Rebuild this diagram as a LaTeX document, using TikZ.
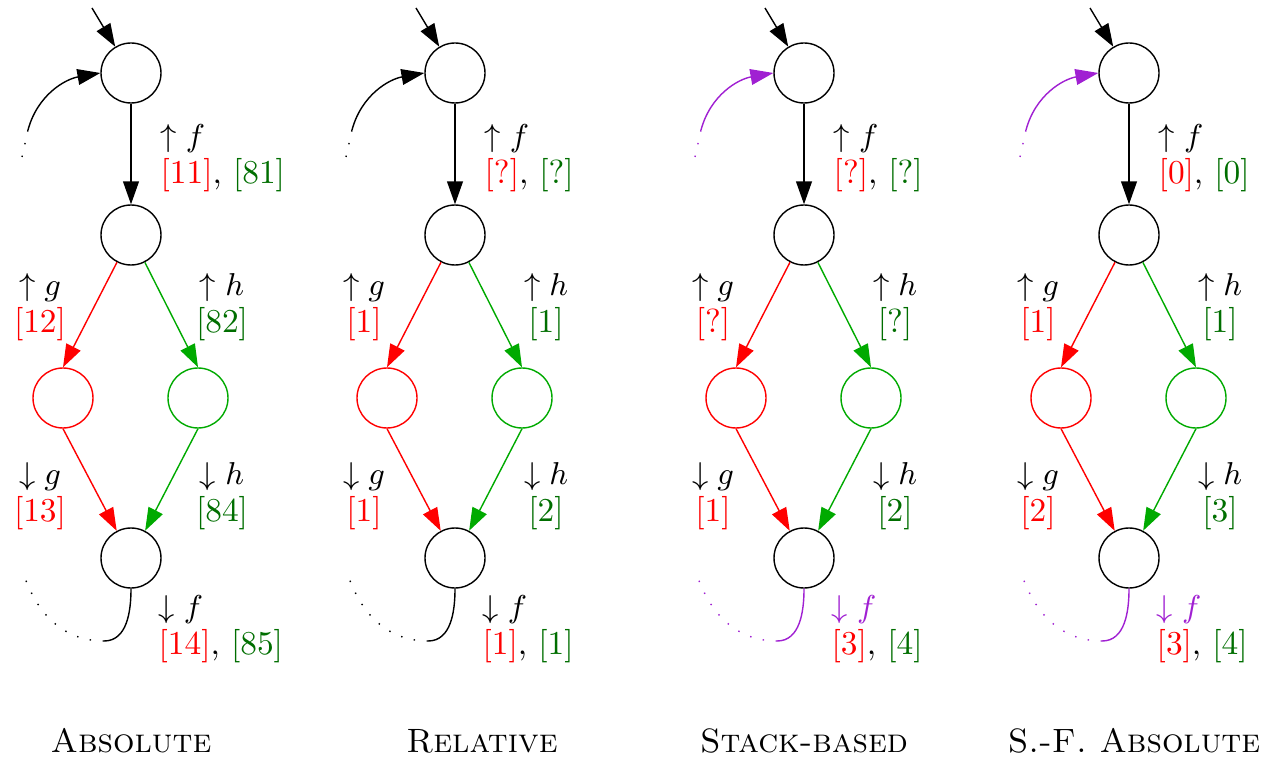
\documentclass[tikz,border=0pt]{standalone}
\usepackage{amsmath, amssymb}
\usepackage{tikz}
\usetikzlibrary{arrows.meta}

\definecolor{edgegreen}{RGB}{0,170,0}
\definecolor{labgreen}{RGB}{0,110,0}
\definecolor{loopcol}{RGB}{160,32,210}

\begin{document}
\begin{tikzpicture}[
	>={Triangle[length=6.5pt,width=4.5pt]},
	state/.style={circle, draw, minimum size=0.6cm, inner sep=0pt},
	lbl/.style={inner sep=0pt, font=\fontsize{9.5}{10.5}\selectfont},
	dotline/.style={dash pattern=on 0.4pt off 3.3pt}
]
	\useasboundingbox (0,0) rectangle (12.62,7.56);
	
	% 四种编号方式，每列一个图
	\foreach \n/\x/\tx/\fa/\fb/\ga/\ha/\gb/\hb/\fc/\fd/\lc/\name in {
		1/1.31/1.31/11/81/12/82/13/84/14/85/black/Absolute,
		2/4.55/4.82/?/?/1/1/1/2/1/1/black/Relative,
		3/8.04/8.04/?/?/?/?/1/2/3/4/loopcol/Stack-based,
		4/11.29/11.34/0/0/1/1/2/3/3/4/loopcol/S.-F. Absolute} {
		
		% 结点
		\node[state] (T\n) at (\x,6.83) {};
		\node[state] (M\n) at (\x,5.21) {};
		\node[state, red] (R\n) at (\x-0.68,3.58) {};
		\node[state, edgegreen] (G\n) at (\x+0.67,3.58) {};
		\node[state] (B\n) at (\x,1.98) {};
		
		% 边
		\coordinate (in\n) at (\x-0.39,7.48);
		\draw[->] (in\n) -- (T\n);
		\draw[->] (T\n) -- (M\n);
		\draw[->, red] (M\n) -- (R\n.north);
		\draw[->, edgegreen] (M\n) -- (G\n.north);
		\draw[->, red] (R\n.south) -- (B\n);
		\draw[->, edgegreen] (G\n.south) -- (B\n);
		
		% 回边（虚线部分省略）
		\coordinate (ld\n) at (\x-1.09,5.99);
		\coordinate (lt\n) at (\x-1.03,6.26);
		\coordinate (lb\n) at (\x-0.27,1.15);
		\coordinate (le\n) at (\x-1.06,1.78);
		\draw[dotline, \lc] (ld\n) -- (lt\n);
		\draw[->, \lc] (lt\n) to[out=75, in=190] (T\n.west);
		\draw[\lc] (B\n.south) to[out=-90, in=0] (lb\n);
		\draw[dotline, \lc] (lb\n) to[out=180, in=-70] (le\n);
		
		% 标签
		\node[lbl, anchor=west, align=left] (uf\n) at (\x+0.29,5.98)
			{$\uparrow f$\\\textcolor{red}{[\fa]}, \textcolor{labgreen}{[\fb]}};
		\node[lbl, align=center] (ug\n) at (\x-0.91,4.49) {$\uparrow g$\\\textcolor{red}{[\ga]}};
		\node[lbl, align=center] (uh\n) at (\x+0.91,4.49) {$\uparrow h$\\\textcolor{labgreen}{[\ha]}};
		\node[lbl, align=center] (dg\n) at (\x-0.91,2.60) {$\downarrow g$\\\textcolor{red}{[\gb]}};
		\node[lbl, align=center] (dh\n) at (\x+0.91,2.60) {$\downarrow h$\\\textcolor{labgreen}{[\hb]}};
		\node[lbl, anchor=west, align=left] (df\n) at (\x+0.27,1.265)
			{\textcolor{\lc}{$\downarrow f$}\\\textcolor{red}{[\fc]}, \textcolor{labgreen}{[\fd]}};
		
		% 标题
		\node[anchor=base, font=\fontsize{9.6}{11}\selectfont] (title\n) at (\tx,0.04) {\textsc{\name}};
	}
\end{tikzpicture}
\end{document}
